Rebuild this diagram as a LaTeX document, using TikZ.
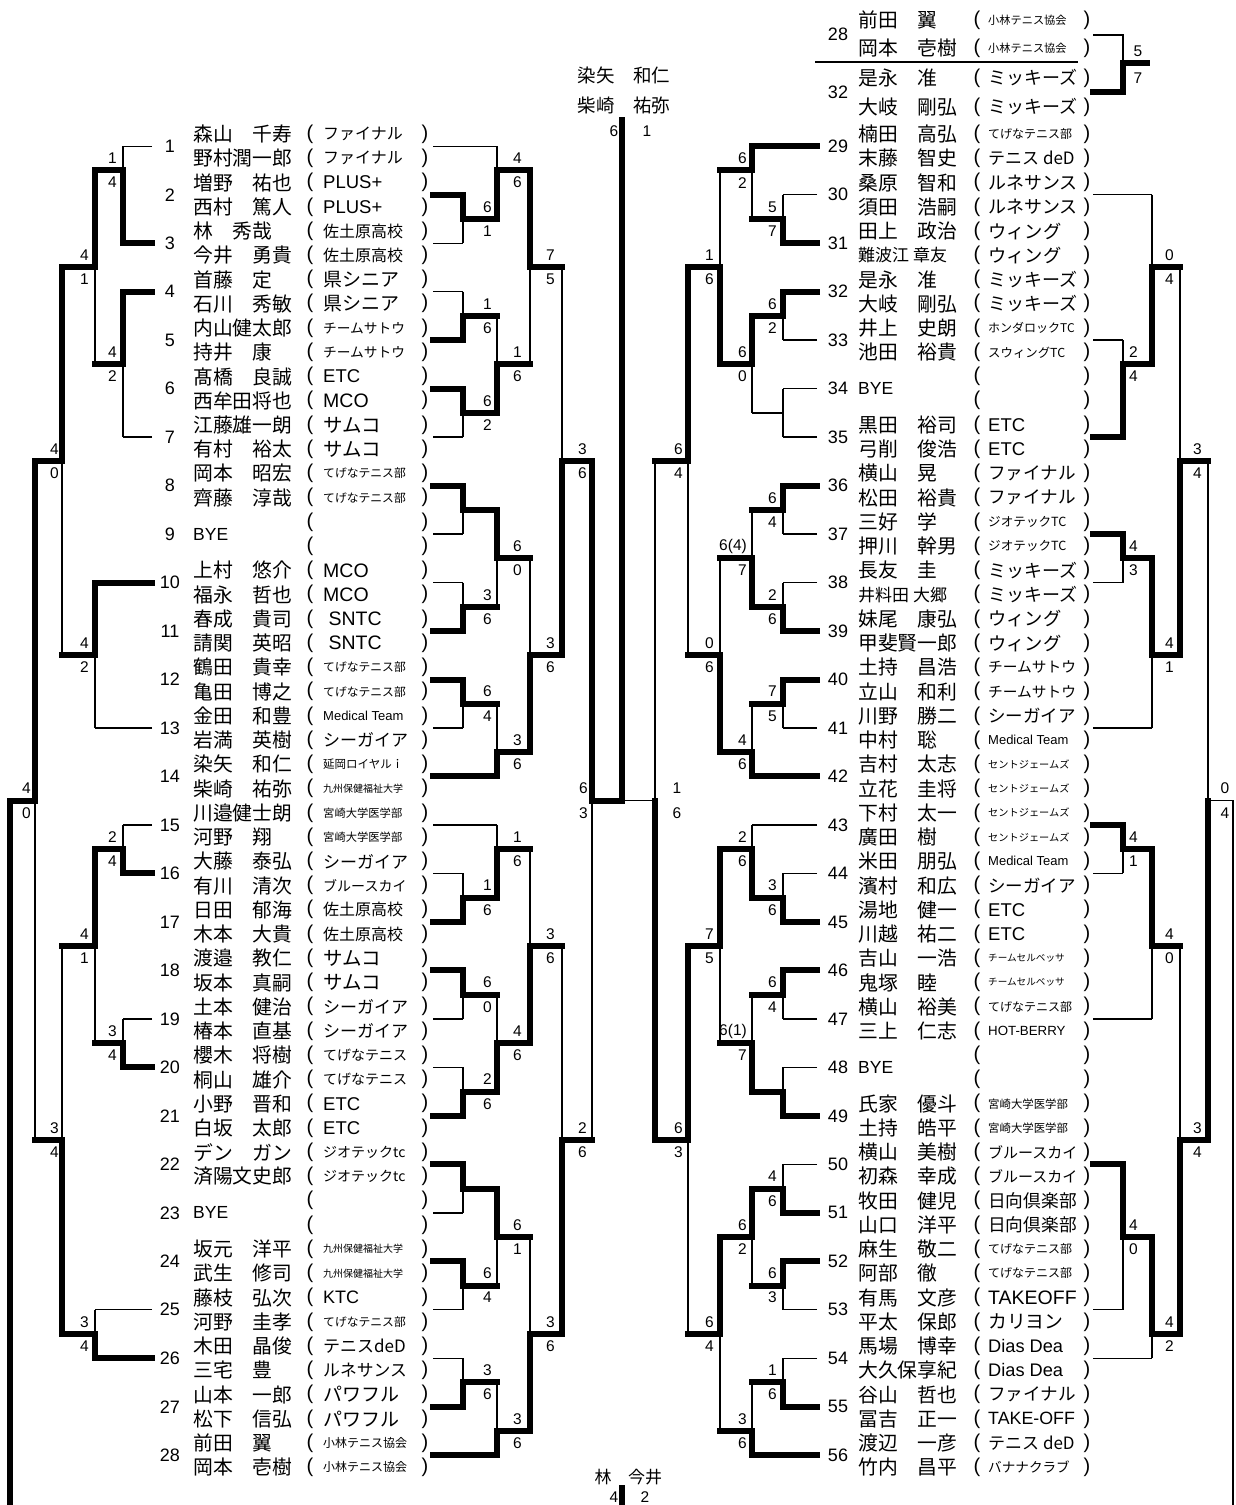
\documentclass[tikz,border=0pt]{standalone}
\usepackage{fontspec}
\setmainfont{Liberation Sans}
\newfontfamily\jp{Noto Sans CJK JP}

% y of the boundary between name lines (row j)
\newcommand{\ry}[1]{(122+24.24*(#1))}
% one match: vertical x, output x, score x, top row, bottom row, junction row, winner (t/b/n), two scores
\newcommand{\bout}[9]{%
  \coordinate (bt) at (#1,{\ry{#4}});
  \coordinate (bm) at (#1,{\ry{#6}});
  \coordinate (bb) at (#1,{\ry{#5}});
  \coordinate (bo) at (#2,{\ry{#6}});
  \if t#7
    \draw[won] (bt) -- (bm) -- (bo);
    \draw[lost] (bm) -- (bb);
  \else\if b#7
    \draw[lost] (bt) -- (bm);
    \draw[won] (bb) -- (bm) -- (bo);
  \else
    \draw[lost] (bt) -- (bb) (bm) -- (bo);
  \fi\fi
  \node[score] (sa-#1-#6) at (#3,{\ry{#6}-12.12}) {#8};
  \node[score] (sb-#1-#6) at (#3,{\ry{#6}+12.12}) {#9};
}

\tikzset{
  lost/.style={line width=1.4pt},
  won/.style={line width=6pt, line cap=rect},
  seedno/.style={font=\fontsize{18}{18}\selectfont, inner sep=0pt},
  player/.style={font=\jp\fontsize{19.8}{19.8}\selectfont, anchor=west, inner sep=0pt},
  byeline/.style={font=\fontsize{17.5}{17.5}\selectfont, anchor=west, inner sep=0pt},
  club/.style={font=\jp, anchor=west, inner sep=0pt},
  paren/.style={font=\fontsize{20}{20}\selectfont, inner sep=0pt},
  score/.style={font=\fontsize{15.5}{15.5}\selectfont, inner sep=0pt},
}

\begin{document}
\begin{tikzpicture}[x=1pt,y=-1pt]
\fill[white] (0,0) rectangle (1236,1505);
\useasboundingbox (0,0) rectangle (1236,1505);

% Left half: players
\foreach \k/\na/\ca/\fa/\nb/\cb/\fb in {
1/森山　千寿/ファイナル/16/野村潤一郎/ファイナル/16,
2/増野　祐也/\rmfamily PLUS+/18.5/西村　篤人/\rmfamily PLUS+/18.5,
3/林　秀哉/佐土原高校/16/今井　勇貴/佐土原高校/16,
4/首藤　定/県シニア/19/石川　秀敏/県シニア/19,
5/内山健太郎/チームサトウ/13.7/持井　康/チームサトウ/13.7,
6/髙橋　良誠/\rmfamily ETC/18.5/西牟田将也/\rmfamily MCO/19.5,
7/江藤雄一朗/サムコ/19.5/有村　裕太/サムコ/19.5,
8/岡本　昭宏/てげなテニス部/11.8/齊藤　淳哉/てげなテニス部/11.8,
10/上村　悠介/\rmfamily MCO/19.5/福永　哲也/\rmfamily MCO/19.5,
11/春成　貴司/\rmfamily\ SNTC/19.5/請関　英昭/\rmfamily\ SNTC/19.5,
12/鶴田　貴幸/てげなテニス部/11.8/亀田　博之/てげなテニス部/11.8,
13/金田　和豊/\rmfamily Medical Team/13/岩満　英樹/シーガイア/17,
14/染矢　和仁/延岡ロイヤルｉ/11.5/柴崎　祐弥/九州保健福祉大学/10,
15/川邉健士朗/宮崎大学医学部/11.3/河野　翔/宮崎大学医学部/11.3,
16/大藤　泰弘/シーガイア/17/有川　清次/ブルースカイ/14,
17/日田　郁海/佐土原高校/16/木本　大貴/佐土原高校/16,
18/渡邉　教仁/サムコ/19.5/坂本　真嗣/サムコ/19.5,
19/土本　健治/シーガイア/17/椿本　直基/シーガイア/17,
20/櫻木　将樹/てげなテニス/14/桐山　雄介/てげなテニス/14,
21/小野　晋和/\rmfamily ETC/18.5/白坂　太郎/\rmfamily ETC/18.5,
22/デン　ガン/ジオテックtc/14/済陽文史郎/ジオテックtc/14,
24/坂元　洋平/九州保健福祉大学/10/武生　修司/九州保健福祉大学/10,
25/藤枝　弘次/\rmfamily KTC/18/河野　圭孝/てげなテニス部/11.8,
26/木田　晶俊/テニスdeD/17/三宅　豊/ルネサンス/16.8,
27/山本　一郎/パワフル/19/松下　信弘/パワフル/19,
28/前田　翼/小林テニス協会/12/岡本　壱樹/小林テニス協会/12}{
  \node[seedno] (sd-\k) at (170,{\ry{2*\k-1}}) {\k};
  \node[player] (pa-\k) at (193,{\ry{2*\k-2}+12.12}) {\na};
  \node[player] (pb-\k) at (193,{\ry{2*\k-1}+12.12}) {\nb};
  \node[club] (ca-\k) at (323,{\ry{2*\k-2}+12.12}) {\fontsize{\fa}{\fa}\selectfont\ca};
  \node[club] (cb-\k) at (323,{\ry{2*\k-1}+12.12}) {\fontsize{\fb}{\fb}\selectfont\cb};
}
\foreach \k in {9,23}{
  \node[seedno] (sd-\k) at (170,{\ry{2*\k-1}}) {\k};
  \node[byeline] (bye-\k) at (193,{\ry{2*\k-1}}) {BYE};
}
\foreach \j in {0,...,55}{
  \node[paren] (ol-\j) at (310,{\ry{\j}+12.12}) {(};
  \node[paren] (cl-\j) at (425,{\ry{\j}+12.12}) {)};
}

% Right half: players
\foreach \k/\na/\ca/\fa/\nb/\cb/\fb in {
29/楠田　高弘/てげなテニス部/12/末藤　智史/テニス deD/17,
30/桑原　智和/ルネサンス/18/須田　浩嗣/ルネサンス/18,
31/田上　政治/ウィング/18.3/{\fontsize{17}{17}\selectfont 難波江 章友}/ウィング/18.3,
32/是永　准/ミッキーズ/18/大岐　剛弘/ミッキーズ/18,
33/井上　史朗/ホンダロックTC/12/池田　裕貴/スウィングTC/12.4,
35/黒田　裕司/\rmfamily ETC/18.5/弓削　俊浩/\rmfamily ETC/18.5,
36/横山　晃/ファイナル/17.6/松田　裕貴/ファイナル/17.6,
37/三好　学/ジオテックTC/12.6/押川　幹男/ジオテックTC/12.6,
38/長友　圭/ミッキーズ/18/{\fontsize{17}{17}\selectfont 井料田 大郷}/ミッキーズ/18,
39/妹尾　康弘/ウィング/18.3/甲斐賢一郎/ウィング/18.3,
40/土持　昌浩/チームサトウ/14.7/立山　和利/チームサトウ/14.7,
41/川野　勝二/シーガイア/17.5/中村　聡/\rmfamily Medical Team/13,
42/吉村　太志/セントジェームズ/10.2/立花　圭将/セントジェームズ/10.2,
43/下村　太一/セントジェームズ/10.2/廣田　樹/セントジェームズ/10.2,
44/米田　朋弘/\rmfamily Medical Team/13/濱村　和広/シーガイア/17.5,
45/湯地　健一/\rmfamily ETC/18.5/川越　祐二/\rmfamily ETC/18.5,
46/吉山　一浩/チームセルベッサ/9.6/鬼塚　睦/チームセルベッサ/9.6,
47/横山　裕美/てげなテニス部/12/三上　仁志/\rmfamily HOT-BERRY/13.3,
49/氏家　優斗/宮崎大学医学部/11.4/土持　皓平/宮崎大学医学部/11.4,
50/横山　美樹/ブルースカイ/15/初森　幸成/ブルースカイ/15,
51/牧田　健児/日向倶楽部/17.7/山口　洋平/日向倶楽部/17.7,
52/麻生　敬二/てげなテニス部/12/阿部　徹/てげなテニス部/12,
53/有馬　文彦/\rmfamily TAKEOFF/19.5/平太　保郎/カリヨン/18.8,
54/馬場　博幸/\rmfamily Dias Dea/18.2/大久保享紀/\rmfamily Dias Dea/18.2,
55/谷山　哲也/ファイナル/17.6/冨吉　正一/\rmfamily TAKE-OFF/17.8,
56/渡辺　一彦/テニス deD/17/竹内　昌平/バナナクラブ/13.6}{
  \node[seedno] (sd-\k) at (838,{\ry{2*(\k-28)-1}}) {\k};
  \node[player] (pa-\k) at (858,{\ry{2*(\k-28)-2}+12.12}) {\na};
  \node[player] (pb-\k) at (858,{\ry{2*(\k-28)-1}+12.12}) {\nb};
  \node[club] (ca-\k) at (988,{\ry{2*(\k-28)-2}+12.12}) {\fontsize{\fa}{\fa}\selectfont\ca};
  \node[club] (cb-\k) at (988,{\ry{2*(\k-28)-1}+12.12}) {\fontsize{\fb}{\fb}\selectfont\cb};
}
\foreach \k in {34,48}{
  \node[seedno] (sd-\k) at (838,{\ry{2*(\k-28)-1}}) {\k};
  \node[byeline] (bye-\k) at (858,{\ry{2*(\k-28)-1}}) {BYE};
}
\foreach \j in {0,...,55}{
  \node[paren] (or-\j) at (977,{\ry{\j}+12.12}) {(};
  \node[paren] (cr-\j) at (1087,{\ry{\j}+12.12}) {)};
}

% Top right box: 28 v 32
\node[seedno] (sd-t28) at (838,34) {28};
\node[seedno] (sd-t32) at (838,92) {32};
\node[player] (ta1) at (858,20) {前田　翼};
\node[player] (ta2) at (858,48) {岡本　壱樹};
\node[player] (tb1) at (858,78) {是永　准};
\node[player] (tb2) at (858,107) {大岐　剛弘};
\foreach \y/\c/\f [count=\n] in {20/小林テニス協会/11.2,48/小林テニス協会/11.2,78/ミッキーズ/18,107/ミッキーズ/18}{
  \node[paren] (tor-\n) at (977,\y) {(};
  \node[paren] (tcr-\n) at (1087,\y) {)};
  \node[club] (tcl-\n) at (988,\y) {\fontsize{\f}{\f}\selectfont\c};
}
\draw[line width=1.8pt] (815,62) -- (1078,62);
\coordinate (tx1) at (1093,35);
\coordinate (tx2) at (1093,92);
\coordinate (tv1) at (1123,35);
\coordinate (tv2) at (1123,92);
\coordinate (tvm) at (1123,63);
\coordinate (tvo) at (1147,63);
\draw[lost] (tx1) -- (tv1) -- (tvm);
\draw[won] (tx2) -- (tv2) -- (tvm) -- (tvo);
\node[score] (ts1) at (1138,51) {5};
\node[score] (ts2) at (1138,78) {7};

% Left main bracket
\foreach \k/\x/\s in {1/497/lost,2/463/won,3/463/lost,4/463/lost,5/463/won,6/463/won,7/463/lost,
  8/463/won,9/463/lost,10/463/lost,11/463/won,12/463/won,13/463/lost,14/497/won,
  15/497/lost,16/463/lost,17/463/won,18/463/won,19/463/lost,20/463/lost,21/463/won,
  22/463/won,23/463/lost,24/463/won,25/463/lost,26/463/lost,27/463/won,28/497/won}{
  \draw[\s] (433,{\ry{2*\k-1}}) -- (\x,{\ry{2*\k-1}});
}
\begin{scope}[score/.append style={anchor=west}]
\foreach \a/\b/\j/\w/\sa/\sb in {3/5/4/t/6/1,7/9/8/b/1/6,11/13/12/t/6/2,15/17/16/t/{}/{},
  19/21/20/b/3/6,23/25/24/t/6/4,31/33/32/b/1/6,35/37/36/t/6/0,39/41/40/b/2/6,
  43/45/44/t/{}/{},47/49/48/t/6/4,51/53/52/b/3/6}{
  \bout{463}{497}{483}{\a}{\b}{\j}{\w}{\sa}{\sb}
}
\foreach \a/\b/\j/\w/\sa/\sb in {1/4/2/b/4/6,8/12/10/b/1/6,16/20/18/t/6/0,24/27/26/b/3/6,
  29/32/30/b/1/6,36/40/38/b/4/6,44/48/46/t/6/1,52/55/54/b/3/6}{
  \bout{497}{530}{513}{\a}{\b}{\j}{\w}{\sa}{\sb}
}
\foreach \a/\b/\j/\w/\sa/\sb in {2/10/6/t/7/5,18/26/22/b/3/6,30/38/34/b/3/6,46/54/50/b/3/6}{
  \bout{530}{562}{546}{\a}{\b}{\j}{\w}{\sa}{\sb}
}
\foreach \a/\b/\j/\w/\sa/\sb in {6/22/14/b/3/6,34/50/42/b/2/6}{
  \bout{562}{592}{578}{\a}{\b}{\j}{\w}{\sa}{\sb}
}
\end{scope}
% Left semifinal
\begin{scope}[score/.append style={anchor=east}]
\bout{592}{622}{588}{14}{42}{28}{t}{6}{3}
\end{scope}

% Left consolation bracket
\foreach \k/\x/\s in {1/123/lost,3/123/won,4/123/won,7/123/lost,10/95/won,13/95/lost,
  15/123/lost,16/123/won,19/123/lost,20/123/won,25/95/lost,26/95/won}{
  \draw[\s] (152,{\ry{2*\k-1}}) -- (\x,{\ry{2*\k-1}});
}
\begin{scope}[score/.append style={anchor=east}]
\foreach \a/\b/\j/\w/\sa/\sb in {1/5/2/b/1/4,7/13/10/t/4/2,29/31/30/b/2/4,37/39/38/b/3/4}{
  \bout{123}{95}{117}{\a}{\b}{\j}{\w}{\sa}{\sb}
}
\foreach \a/\b/\j/\w/\sa/\sb in {2/10/6/t/4/1,19/25/22/t/4/2,30/38/34/t/4/1,49/51/50/b/3/4}{
  \bout{95}{62}{89}{\a}{\b}{\j}{\w}{\sa}{\sb}
}
\foreach \a/\b/\j/\w/\sa/\sb in {6/22/14/t/4/0,34/50/42/b/3/4}{
  \bout{62}{35}{59}{\a}{\b}{\j}{\w}{\sa}{\sb}
}
\bout{35}{10}{31}{14}{42}{28}{t}{4}{0}
\end{scope}
\coordinate (lcf) at (10,1505);
\draw[won] (bo) -- (lcf);

% Right main bracket
\foreach \k/\x/\s in {29/752/won,30/783/lost,31/783/won,32/783/won,33/783/lost,34/783/lost,
  35/783/lost,36/783/won,37/783/lost,38/783/lost,39/783/won,40/783/won,41/783/lost,
  42/752/won,43/752/lost,44/783/lost,45/783/won,46/783/won,47/783/lost,48/783/lost,
  49/783/won,50/783/lost,51/783/won,52/783/won,53/783/lost,54/783/lost,55/783/won,56/752/won}{
  \draw[\s] (817,{\ry{2*(\k-28)-1}}) -- (\x,{\ry{2*(\k-28)-1}});
}
\begin{scope}[score/.append style={anchor=east}]
\foreach \a/\b/\j/\w/\sa/\sb in {3/5/4/b/5/7,7/9/8/t/6/2,11/13/12/n/{}/{},15/17/16/t/6/4,
  19/21/20/b/2/6,23/25/24/t/7/5,31/33/32/b/3/6,35/37/36/t/6/4,39/41/40/b/{}/{},
  43/45/44/b/4/6,47/49/48/t/6/3,51/53/52/b/1/6}{
  \bout{783}{752}{777}{\a}{\b}{\j}{\w}{\sa}{\sb}
}
\foreach \a/\b/\j/\w/\sa/\sb in {1/4/2/t/6/2,8/12/10/t/6/0,16/20/18/b/6(4)/7,24/27/26/b/4/6,
  29/32/30/b/2/6,36/40/38/b/6(1)/7,44/48/46/t/6/2,52/55/54/b/3/6}{
  \bout{752}{720}{747}{\a}{\b}{\j}{\w}{\sa}{\sb}
}
\foreach \a/\b/\j/\w/\sa/\sb in {2/10/6/b/1/6,18/26/22/b/0/6,30/38/34/t/7/5,46/54/50/t/6/4}{
  \bout{720}{688}{714}{\a}{\b}{\j}{\w}{\sa}{\sb}
}
\foreach \a/\b/\j/\w/\sa/\sb in {6/22/14/t/6/4,34/50/42/t/6/3}{
  \bout{688}{655}{683}{\a}{\b}{\j}{\w}{\sa}{\sb}
}
\end{scope}
% Right semifinal
\coordinate (rst) at (655,{\ry{14}});
\coordinate (rsm) at (655,{\ry{28}});
\coordinate (rsb) at (655,{\ry{42}});
\coordinate (fmid) at (622,{\ry{28}});
\draw[lost] (rst) -- (rsm) -- (fmid);
\draw[won] (rsm) -- (rsb);
\node[score] (rs1) at (677,{\ry{28}-12.12}) {1};
\node[score] (rs2) at (677,{\ry{28}+12.12}) {6};

% Right consolation bracket
\foreach \k/\x/\s in {30/1152/lost,33/1123/lost,35/1123/won,37/1123/won,38/1123/lost,
  41/1152/lost,43/1123/won,44/1123/lost,47/1152/lost,50/1123/won,53/1123/lost,54/1152/lost}{
  \draw[\s] (1093,{\ry{2*(\k-28)-1}}) -- (\x,{\ry{2*(\k-28)-1}});
}
\begin{scope}[score/.append style={anchor=west}]
\foreach \a/\b/\j/\w/\sa/\sb in {9/13/10/b/2/4,17/19/18/t/4/3,29/31/30/t/4/1,43/49/46/t/4/0}{
  \bout{1123}{1152}{1129}{\a}{\b}{\j}{\w}{\sa}{\sb}
}
\foreach \a/\b/\j/\w/\sa/\sb in {3/10/6/b/0/4,18/25/22/t/4/1,30/37/34/t/4/0,46/51/50/t/4/2}{
  \bout{1152}{1180}{1165}{\a}{\b}{\j}{\w}{\sa}{\sb}
}
\foreach \a/\b/\j/\w/\sa/\sb in {6/22/14/b/3/4,34/50/42/b/3/4}{
  \bout{1180}{1208}{1193}{\a}{\b}{\j}{\w}{\sa}{\sb}
}
\end{scope}
\coordinate (rct) at (1208,{\ry{14}});
\coordinate (rcm) at (1208,{\ry{28}});
\coordinate (rcb) at (1208,{\ry{42}});
\coordinate (rco) at (1233,{\ry{28}});
\coordinate (rcf) at (1233,1505);
\draw[lost] (rct) -- (rcm) -- (rco) -- (rcf);
\draw[won] (rcm) -- (rcb);
\node[score] (rc1) at (1225,{\ry{28}-12.12}) {0};
\node[score] (rc2) at (1225,{\ry{28}+12.12}) {4};

% Final
\coordinate (ftop) at (622,120);
\draw[won] (ftop) -- (fmid);
\node[player, anchor=center, font=\jp\fontsize{18.5}{18.5}\selectfont] (fw1) at (624,75) {染矢　和仁};
\node[player, anchor=center, font=\jp\fontsize{18.5}{18.5}\selectfont] (fw2) at (624,105) {柴崎　祐弥};
\node[score] (fs1) at (614,131) {6};
\node[score] (fs2) at (647,131) {1};

% Consolation final
\node[player, anchor=center, font=\jp\fontsize{17}{17}\selectfont] (cw1) at (603,1477) {林};
\node[player, anchor=center, font=\jp\fontsize{17}{17}\selectfont] (cw2) at (645,1477) {今井};
\node[score] (cs1) at (614,1497) {4};
\node[score] (cs2) at (645,1497) {2};
\coordinate (cft) at (622,1488);
\coordinate (cfb) at (622,1505);
\draw[won] (cft) -- (cfb);
\end{tikzpicture}
\end{document}
